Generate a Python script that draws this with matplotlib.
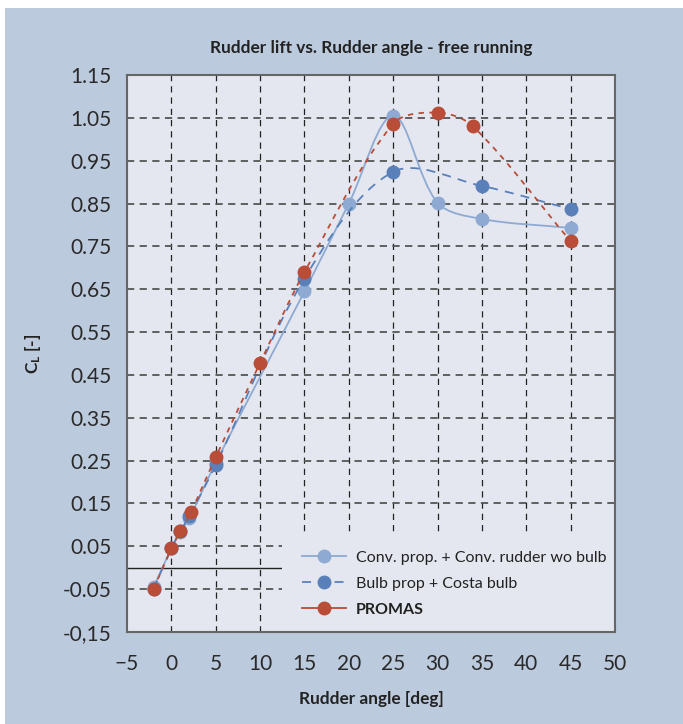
import matplotlib
matplotlib.use('Agg')
import matplotlib.pyplot as plt
import numpy as np
from matplotlib.path import Path
from matplotlib.patches import PathPatch, Rectangle
from matplotlib.lines import Line2D

plt.rcParams['font.family'] = ['Lato', 'DejaVu Sans']
plt.rcParams['mathtext.fontset'] = 'custom'
plt.rcParams['mathtext.rm'] = 'Lato'
plt.rcParams['mathtext.bf'] = 'Lato:bold'

# Данные
conv_x = [-2, 0, 1, 2, 5, 15, 20, 25, 30, 35, 45]
conv_y = [-0.045, 0.045, 0.083, 0.115, 0.245, 0.645, 0.85, 1.055, 0.852, 0.814, 0.793]

bulb_x = [-2, 0, 1, 2, 5, 15, 25, 35, 45]
bulb_y = [-0.05, 0.045, 0.085, 0.12, 0.24, 0.675, 0.924, 0.891, 0.837]

promas_x = [-2, 0, 1, 2.2, 5, 10, 15, 25, 30, 34, 45]
promas_y = [-0.05, 0.045, 0.085, 0.13, 0.258, 0.478, 0.69, 1.036, 1.062, 1.03, 0.762]

x_ticks = [-5, 0, 5, 10, 15, 20, 25, 30, 35, 40, 45, 50]
y_ticks = [1.15, 1.05, 0.95, 0.85, 0.75, 0.65, 0.55, 0.45, 0.35, 0.25, 0.15, 0.05, -0.05, -0.15]
y_tick_labels = ['1.15', '1.05', '0.95', '0.85', '0.75', '0.65', '0.55', '0.45',
                 '0.35', '0.25', '0.15', '0.05', '-0.05', '-0,15']

labels = ['Conv. prop. + Conv. rudder wo bulb', 'Bulb prop + Costa bulb', 'PROMAS']
c_light = '#8eaad3'
c_dark = '#5a80ba'
c_red = '#b94d37'
bg = '#bccadd'
plot_bg = '#e4e7ef'


def smooth_path(ax, xs, ys):
    # сглаживание как в Excel: кривые Безье, считаются в экранных координатах
    pts = ax.transData.transform(np.column_stack([xs, ys]))
    n = len(pts)
    verts = [pts[0]]
    codes = [Path.MOVETO]
    for i in range(n - 1):
        p0 = pts[i - 1] if i > 0 else pts[i]
        p1 = pts[i]
        p2 = pts[i + 1]
        p3 = pts[i + 2] if i + 2 < n else pts[i + 1]
        d01 = np.hypot(*(p1 - p0))
        d12 = np.hypot(*(p2 - p1))
        d23 = np.hypot(*(p3 - p2))
        f1 = d12 / (3 * (d01 + d12)) if d01 + d12 > 0 else 0
        f2 = d12 / (3 * (d12 + d23)) if d12 + d23 > 0 else 0
        c1 = p1 + (p2 - p0) * f1
        c2 = p2 - (p3 - p1) * f2
        verts += [c1, c2, p2]
        codes += [Path.CURVE4] * 3
    verts = ax.transData.inverted().transform(np.array(verts))
    return Path(verts, codes)


fig = plt.figure(figsize=(6.83, 7.24), dpi=100, facecolor='white')
fig.patches.append(Rectangle((5 / 683, 0), 1, 1 - 8 / 724, transform=fig.transFigure,
                             facecolor=bg, edgecolor='none', zorder=-10))
ax = fig.add_axes([127 / 683, 1 - 632 / 724, 488 / 683, 557 / 724])
ax.set_facecolor(plot_bg)
ax.set_xlim(-5, 50)
ax.set_ylim(-0.15, 1.15)

# сетка
for gx in range(0, 50, 5):
    ax.axvline(gx, color='#222222', lw=0.9, ls=(0, (5, 4)), zorder=0.5)
for gy in y_ticks[1:-1]:
    ax.axhline(gy, color='#555555', lw=1.3, ls=(0, (4, 3)), zorder=0.5)
ax.axhline(0, color='#222222', lw=1.0, zorder=0.6)

# фон под легендой
ax.add_patch(Rectangle((12.5, -0.15), 37.5, 0.23, facecolor=plot_bg, edgecolor='none', zorder=1))

ax.add_patch(PathPatch(smooth_path(ax, conv_x, conv_y), facecolor='none', edgecolor=c_light,
                       lw=1.3, zorder=2))
ax.plot(conv_x, conv_y, 'o', color=c_light, ms=9, zorder=2.1)

ax.add_patch(PathPatch(smooth_path(ax, bulb_x, bulb_y), facecolor='none', edgecolor=c_dark, lw=1.3,
                       ls=(0, (5, 4)), zorder=2.2))
ax.plot(bulb_x, bulb_y, 'o', color=c_dark, ms=9, zorder=2.3)

ax.add_patch(PathPatch(smooth_path(ax, promas_x, promas_y), facecolor='none', edgecolor=c_red, lw=1.3,
                       ls=(0, (3, 3)), zorder=2.4))
ax.plot(promas_x, promas_y, 'o', color=c_red, ms=9, zorder=2.5)

ax.set_xticks(x_ticks)
ax.set_yticks(y_ticks)
ax.set_yticklabels(y_tick_labels)
ax.tick_params(length=0, labelsize=15, colors='#2a2a2a')
ax.tick_params(axis='x', pad=16)
ax.tick_params(axis='y', pad=11)
for s in ax.spines.values():
    s.set_color('#666666')
    s.set_linewidth(1.5)

ax.set_title('Rudder lift vs. Rudder angle - free running', fontsize=12.4, fontweight='bold',
             color='#222222', pad=16)
ax.set_xlabel('Rudder angle [deg]', fontsize=12.4, fontweight='bold', color='#222222', labelpad=12)
ax.set_ylabel(r'$\mathbf{C_L}$ [-]', fontsize=12.4, fontweight='bold', color='#222222', labelpad=14)

handles = [
    Line2D([], [], color=c_light, lw=1.3, marker='o', ms=9),
    Line2D([], [], color=c_dark, lw=1.3, ls=(0, (5, 4)), marker='o', ms=9),
    Line2D([], [], color=c_red, lw=1.3, marker='o', ms=9),
]
leg = ax.legend(handles, labels, loc='upper left', bbox_to_anchor=(0.345, 0.158), frameon=False,
                fontsize=11.5, handlelength=2.8, handletextpad=0.6, labelspacing=0.75,
                numpoints=1, borderaxespad=0)
leg.set_zorder(3)
for t in leg.get_texts():
    t.set_color('#222222')
leg.get_texts()[2].set_fontweight('bold')

plt.savefig('out.png', dpi=100, facecolor=fig.get_facecolor())
